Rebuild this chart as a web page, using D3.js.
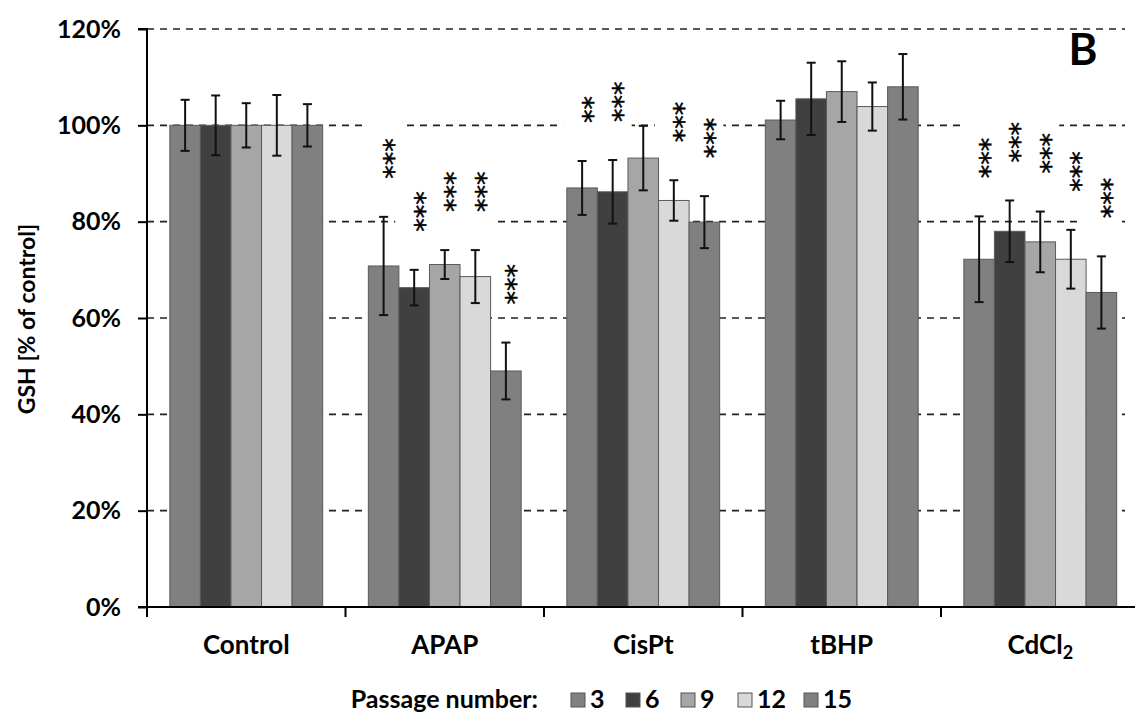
<!DOCTYPE html>
<html>
<head>
<meta charset="utf-8">
<script src="https://cdn.jsdelivr.net/npm/d3@7"></script>
<style>
  html, body { margin: 0; padding: 0; background: #fff; }
  svg { display: block; }
  text { font-family: Lato, "Open Sans", sans-serif; font-weight: bold; fill: #000; }
</style>
</head>
<body>
<svg id="chart" width="1135" height="713"></svg>
<script>
// ---- data ----
const groups = ["Control", "APAP", "CisPt", "tBHP", "CdCl2"];
const passages = ["3", "6", "9", "12", "15"];
const passageColors = ["#808080", "#404040", "#a6a6a6", "#d9d9d9", "#808080"];

const mean3  = [100, 70.8, 87.0, 101.1, 72.2];
const mean6  = [100, 66.3, 86.2, 105.5, 78.0];
const mean9  = [100, 71.1, 93.2, 107.0, 75.8];
const mean12 = [100, 68.6, 84.4, 103.9, 72.2];
const mean15 = [100, 49.0, 79.9, 108.0, 65.3];

const err3  = [5.3, 10.2, 5.6, 4.0, 8.9];
const err6  = [6.2, 3.7, 6.6, 7.5, 6.4];
const err9  = [4.6, 3.0, 6.7, 6.3, 6.3];
const err12 = [6.3, 5.5, 4.2, 5.0, 6.1];
const err15 = [4.4, 5.9, 5.4, 6.8, 7.5];

const sig3  = ["", "***", "**",  "", "***"];
const sig6  = ["", "***", "***", "", "***"];
const sig9  = ["", "***", "",    "", "***"];
const sig12 = ["", "***", "***", "", "***"];
const sig15 = ["", "***", "***", "", "***"];

const yTicks = [0, 20, 40, 60, 80, 100, 120];

const means = [mean3, mean6, mean9, mean12, mean15];
const errs = [err3, err6, err9, err12, err15];
const sigs = [sig3, sig6, sig9, sig12, sig15];

// ---- layout ----
const svg = d3.select("#chart");
const x0 = 147, x1 = 1139.5, yTop = 29, yBottom = 607;

const x = d3.scaleBand().domain(groups).range([x0, x1]).paddingInner(0.23).paddingOuter(0.115);
const xs = d3.scaleBand().domain(passages).range([0, x.bandwidth()]);
const y = d3.scaleLinear().domain([0, 120]).range([yBottom, yTop]);

const rows = [];
groups.forEach((g, gi) => {
  passages.forEach((p, pi) => {
    rows.push({ g, p, pi, v: means[pi][gi], e: errs[pi][gi], s: sigs[pi][gi] });
  });
});

// gridlines
svg.append("g").selectAll("line").data(yTicks.filter(d => d > 0)).join("line")
  .attr("x1", x0).attr("x2", 1125)
  .attr("y1", d => y(d)).attr("y2", d => y(d))
  .attr("stroke", "#222").attr("stroke-width", 1.6)
  .attr("stroke-dasharray", "7,6");

// white boxes behind significance labels
const starAdv = 13.5;
const starGap = 38;
const sigRows = rows.filter(d => d.s);
svg.append("g").selectAll("rect").data(sigRows).join("rect")
  .attr("x", d => x(d.g) + xs(d.p) + xs.bandwidth() / 2 - 19)
  .attr("width", 38)
  .attr("y", d => y(d.v + d.e) - starGap - d.s.length * starAdv - 16)
  .attr("height", d => d.s.length * starAdv + 16 + 12)
  .attr("fill", "#fff");

// bars
svg.append("g").selectAll("rect").data(rows).join("rect")
  .attr("x", d => x(d.g) + xs(d.p))
  .attr("width", xs.bandwidth())
  .attr("y", d => y(d.v))
  .attr("height", d => y(0) - y(d.v))
  .attr("fill", d => passageColors[d.pi])
  .attr("stroke", "#5a5a5a").attr("stroke-width", 1);

// error bars
const eg = svg.append("g").attr("stroke", "#111").attr("stroke-width", 2);
rows.forEach(d => {
  const cx = x(d.g) + xs(d.p) + xs.bandwidth() / 2;
  eg.append("line").attr("x1", cx).attr("x2", cx).attr("y1", y(d.v + d.e)).attr("y2", y(d.v - d.e));
  eg.append("line").attr("x1", cx - 4.5).attr("x2", cx + 4.5).attr("y1", y(d.v + d.e)).attr("y2", y(d.v + d.e));
  eg.append("line").attr("x1", cx - 4.5).attr("x2", cx + 4.5).attr("y1", y(d.v - d.e)).attr("y2", y(d.v - d.e));
});

// significance stars (rotated)
svg.append("g").selectAll("text").data(sigRows).join("text")
  .attr("transform", d => {
    const cx = x(d.g) + xs(d.p) + xs.bandwidth() / 2;
    return `translate(${cx},${y(d.v + d.e) - starGap}) rotate(-90)`;
  })
  .attr("dy", "0.72em")
  .attr("text-anchor", "start")
  .style("font-family", "'DejaVu Sans', sans-serif")
  .style("font-weight", "normal")
  .style("font-size", "27px")
  .attr("stroke", "#000").attr("stroke-width", 0.5)
  .text(d => d.s);

// y axis
const yAxis = d3.axisLeft(y).tickValues(yTicks).tickFormat(d => d + "%").tickSize(9).tickPadding(17);
const yg = svg.append("g").attr("transform", `translate(${x0},0)`).call(yAxis);
yg.select(".domain").attr("stroke", "#000").attr("stroke-width", 2).attr("d", `M-9,${yTop}H0V${yBottom}`);
yg.selectAll(".tick line").attr("stroke", "#000").attr("stroke-width", 2);
yg.selectAll(".tick text").style("font-size", "25px").style("font-family", "Lato, sans-serif").style("font-weight", "bold").attr("fill", "#000");

// x axis line and boundary ticks
svg.append("line").attr("x1", 138).attr("x2", 1135).attr("y1", yBottom).attr("y2", yBottom)
  .attr("stroke", "#000").attr("stroke-width", 2);
const step = x.step();
svg.append("g").selectAll("line").data(groups).join("line")
  .attr("x1", d => x(d) - x.paddingOuter() * step).attr("x2", d => x(d) - x.paddingOuter() * step)
  .attr("y1", yBottom).attr("y2", yBottom + 10)
  .attr("stroke", "#000").attr("stroke-width", 2);

// category labels
svg.append("g").selectAll("text").data(groups).join("text")
  .attr("x", d => x(d) + x.bandwidth() / 2)
  .attr("y", 654)
  .attr("text-anchor", "middle")
  .style("font-size", "26px")
  .each(function (d) {
    const t = d3.select(this);
    if (d === "CdCl2") {
      t.append("tspan").text("CdCl");
      t.append("tspan").text("2").attr("dy", 5).style("font-size", "18px");
    } else {
      t.text(d);
    }
  });

// y axis title
svg.append("text")
  .attr("transform", "translate(35,319) rotate(-90)")
  .attr("text-anchor", "middle")
  .style("font-size", "23px")
  .text("GSH [% of control]");

// panel letter
svg.append("text").attr("x", 1083).attr("y", 65).attr("text-anchor", "middle")
  .style("font-size", "44px").text("B");

// legend
const lg = svg.append("g");
lg.append("text").attr("x", 538).attr("y", 708).attr("text-anchor", "end")
  .style("font-size", "25px").text("Passage number:");
const legX = [571, 626, 681, 738, 804];
passages.forEach((p, i) => {
  lg.append("rect").attr("x", legX[i]).attr("y", 693).attr("width", 14).attr("height", 14)
    .attr("fill", passageColors[i]).attr("stroke", "#555").attr("stroke-width", 1);
  lg.append("text").attr("x", legX[i] + 19).attr("y", 708).style("font-size", "25px").text(p);
});
</script>
</body>
</html>
